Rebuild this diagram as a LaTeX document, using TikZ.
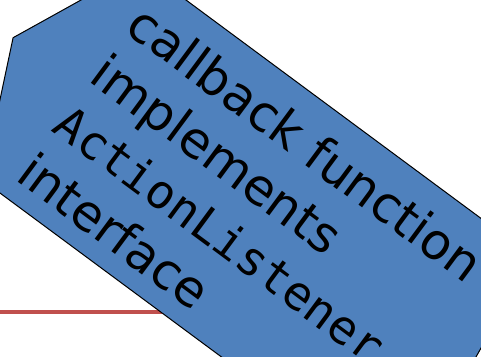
\documentclass[tikz,border=0pt]{standalone}
\usepackage{fontspec}
\setmainfont{DejaVu Sans}
\setmonofont[Scale=0.94]{DejaVu Sans Mono}
\definecolor{boxblue}{HTML}{4F81BD}
\definecolor{wirered}{HTML}{C0504D}

\begin{document}
\begin{tikzpicture}[x=1pt,y=-1pt,
    wire/.style={draw=wirered,line width=3.5pt},
    callbackbox/.style={fill=boxblue,draw=black,line width=1pt,line join=miter}]
  \clip (0,0) rectangle (481,356);

  \coordinate (wireL) at (0,312);
  \coordinate (wireR) at (260,312);
  \draw[wire] (wireL) -- (wireR);

  % tilted box, most of it runs out of the frame
  \coordinate (tip) at (13.1,37.7);
  \coordinate (tl) at (141,-33.3);
  \coordinate (tr) at (532.9,256.8);
  \coordinate (br) at (400.6,489.5);
  \coordinate (bl) at (-17.1,180.4);
  \filldraw[callbackbox] (tip) -- (tl) -- (tr) -- (br) -- (bl) -- cycle;

  \node[rotate=-36.5,anchor=base west,inner sep=0pt,align=left,
        font=\fontsize{50}{61.5}\selectfont] (label) at (14.0,179.5)
    {callback function\\implements\\\texttt{ActionListener}\\interface};
\end{tikzpicture}
\end{document}
